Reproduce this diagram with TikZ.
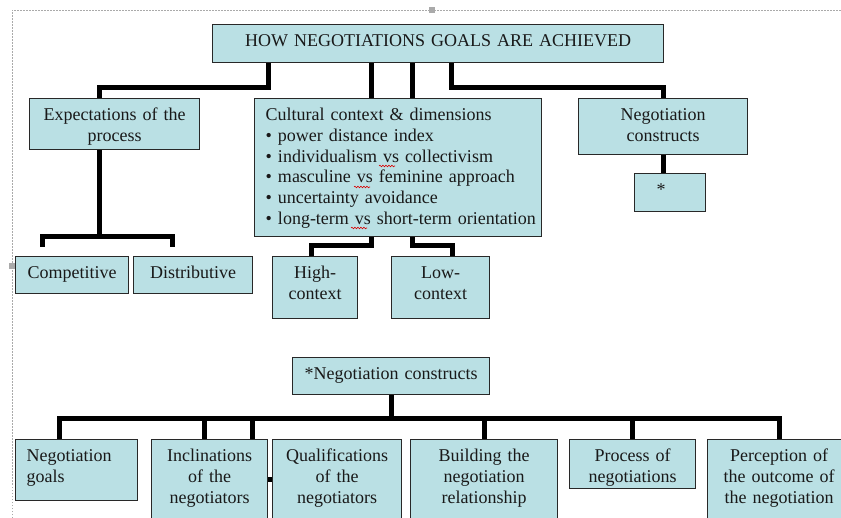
\documentclass[tikz,border=0pt]{standalone}
\usepackage{fontspec}
\setmainfont{Liberation Serif}
\usetikzlibrary{calc,decorations.pathmorphing}
\definecolor{boxfill}{RGB}{186,224,228}
\definecolor{boxline}{RGB}{40,40,40}
\definecolor{textcol}{RGB}{25,25,25}
\definecolor{framegray}{RGB}{170,170,170}
\newcommand\boxfont{\fontsize{18pt}{20.7pt}\selectfont}

\begin{document}
\begin{tikzpicture}[x=1pt,y=-1pt,
  box/.style={draw=boxline, fill=boxfill, line width=1.4pt, inner xsep=0pt,
    inner ysep=4pt, text height=18pt, anchor=north west, align=center,
    font=\boxfont, text=textcol},
  conn/.style={draw=black, line width=5pt},
  squiggle/.style={draw=red!85!black, line width=0.6pt, decorate,
    decoration={snake, amplitude=0.8pt, segment length=3pt}},
  selframe/.style={draw=framegray, line width=0.6pt, dash pattern=on 1.5pt off 1.5pt}]

% page area
\clip (0,0) rectangle (841,518);
\fill[white] (0,0) rectangle (841,518);

% selection frame with its handles
\draw[selframe] (12,518) -- (12,10) -- (841,10);
\fill[framegray] (429,7) rectangle (435,13);
\fill[framegray] (9,263) rectangle (15,269);

% upper chart
\node[box, text width=451pt, text depth=12pt] (title) at (212,24)
  {HOW NEGOTIATIONS GOALS ARE ACHIEVED};
\node[box, text width=170pt, text depth=25pt] (exp) at (29,98)
  {Expectations of the\\process};
\node[box, align=left, inner xsep=11pt, text width=265pt, text depth=112pt] (cult) at (254,98)
  {\mbox{Cultural context \& dimensions}\\\mbox{• power distance index}\\\mbox{• individualism vs collectivism}\\\mbox{• masculine vs feminine approach}\\\mbox{• uncertainty avoidance}\\\mbox{• long-term vs short-term orientation}};
\node[box, text width=169pt, text depth=30pt] (ncon) at (578,98)
  {Negotiation\\constructs};
\node[box, align=left, inner xsep=22pt, text width=27pt, text depth=12pt] (star) at (634,173) {*};
\node[box, text width=113pt, text depth=11pt] (comp) at (15,256) {Competitive};
\node[box, text width=119pt, text depth=11pt] (dist) at (133,256) {Distributive};
\node[box, text width=85pt, text depth=36pt] (high) at (272,256) {High-\\context};
\node[box, text width=98pt, text depth=36pt] (low) at (391,256) {Low-\\context};

% lower chart
\node[box, text width=197pt, text depth=11pt] (ncontwo) at (292,357) {*Negotiation constructs};
\node[box, align=left, inner xsep=11pt, text width=100pt, text depth=35pt] (goals) at (15,439)
  {Negotiation\\goals};
\node[box, text width=116pt, text depth=74pt] (incl) at (151,439) {Inclinations\\of the\\negotiators};
\node[box, text width=129pt, text depth=74pt] (qual) at (272,439) {Qualifications\\of the\\negotiators};
\node[box, text width=147pt, text depth=74pt] (build) at (410,439) {Building the\\negotiation\\relationship};
\node[box, text width=126pt, text depth=23pt] (proc) at (569,439) {Process of\\negotiations};
\node[box, text width=143pt, text depth=74pt] (perc) at (707,439) {Perception of\\the outcome of\\the negotiation};

% spell-check marks under "vs"
\draw[squiggle] ($(cult.north west)+(125,68)$) -- ++(16,0);
\draw[squiggle] ($(cult.north west)+(100,89)$) -- ++(16,0);
\draw[squiggle] ($(cult.north west)+(97,130)$) -- ++(16,0);

% connectors of the upper chart
\draw[conn] ([xshift=56pt]title.south west) -- ++(0,24) -| ([xshift=70pt]exp.north west);
\draw[conn] ([xshift=159pt]title.south west) -- ([xshift=117pt]cult.north west);
\draw[conn] ([xshift=200pt]title.south west) -- ([xshift=158pt]cult.north west);
\draw[conn] ([xshift=239pt]title.south west) -- ++(0,24) -| (ncon.north);
\draw[conn] ([xshift=70pt]exp.south west) -- ++(0,86) coordinate (expbar);
\draw[conn] ([xshift=27pt,yshift=9pt]comp.north west) |- (expbar) -| ([xshift=39pt,yshift=9pt]dist.north west);
\draw[conn] ([xshift=117pt]cult.south west) -- ++(0,8) -| ([xshift=39pt]high.north west);
\draw[conn] ([xshift=158pt]cult.south west) -- ++(0,8) -| ([xshift=61pt]low.north west);
\draw[conn] (ncon.south) -- (ncon.south |- star.north);

% connectors of the lower chart
\draw[conn] (ncontwo.south) -- ++(0,23) coordinate (constbar);
\draw[conn] ([xshift=44pt]goals.north west) |- (constbar) -| (perc.north);
\draw[conn] ([xshift=53pt]incl.north west) -- ++(0,-22);
\draw[conn] ([xshift=101pt]incl.north west) -- ++(0,-22);
\draw[conn] (build.north) -- ++(0,-22);
\draw[conn] (proc.north) -- ++(0,-22);
\draw[conn] ([yshift=-40pt]incl.north east) -- ([yshift=-40pt]qual.north west);
\end{tikzpicture}
\end{document}
